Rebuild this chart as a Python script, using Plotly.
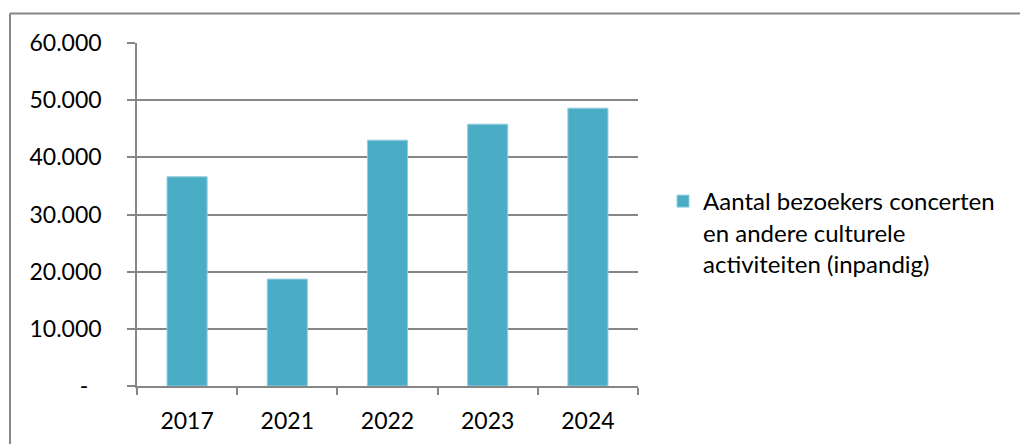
import plotly.graph_objects as go

years = ["2017", "2021", "2022", "2023", "2024"]
visitors = [36600, 18700, 43000, 45800, 48600]
series_name = "Aantal bezoekers concerten<br>en andere culturele<br>activiteiten (inpandig)"
y_tickvals = [0, 10000, 20000, 30000, 40000, 50000, 60000]
y_ticktext = ["-\u2007", "10.000", "20.000", "30.000", "40.000", "50.000", "60.000"]

W, H = 1020, 444
ML, MR, MT, MB = 137, 382, 43, 58
PW, PH = W - ML - MR, H - MT - MB

def px_x(p):
    return (p - ML) / PW

def px_y(p):
    return 1 - (p - MT) / PH

GRAY = "#868686"
FONT = "Lato"

fig = go.Figure()
fig.add_trace(go.Bar(
    x=years, y=visitors, name=series_name,
    marker=dict(color="#4BACC6", line=dict(color="#93CEDD", width=1)),
    showlegend=True,
))

fig.update_layout(
    width=W, height=H,
    margin=dict(l=ML, r=MR, t=MT, b=MB, pad=0, autoexpand=False),
    paper_bgcolor="white", plot_bgcolor="white",
    bargap=0.6,
    font=dict(family=FONT, size=23, color="black"),
    showlegend=True,
    legend=dict(x=px_x(663), y=px_y(179), xanchor="left", yanchor="top",
                valign="top", font=dict(family=FONT, size=24, color="black"),
                bgcolor="rgba(0,0,0,0)", tracegroupgap=0),
    xaxis=dict(type="category", range=[-0.5, 4.5], showline=True, linecolor=GRAY,
               linewidth=1.5, ticks="outside", tickson="boundaries", ticklen=7,
               tickcolor=GRAY, tickwidth=1.5, showgrid=False, zeroline=False,
               ticklabelstandoff=14, automargin=False,
               tickfont=dict(family=FONT, size=23, color="black"), fixedrange=True),
    yaxis=dict(range=[0, 60000], tickvals=y_tickvals, ticktext=y_ticktext,
               showline=True, linecolor=GRAY, linewidth=1.5, ticks="outside",
               ticklen=8, tickcolor=GRAY, tickwidth=1.5, showgrid=True,
               gridcolor=GRAY, gridwidth=1.5, zeroline=False,
               ticklabelstandoff=21, automargin=False,
               tickfont=dict(family=FONT, size=23, color="black"), fixedrange=True),
    shapes=[
        dict(type="line", xref="paper", yref="paper", x0=px_x(10), x1=px_x(1025),
             y0=px_y(13.5), y1=px_y(13.5), line=dict(color=GRAY, width=2)),
        dict(type="line", xref="paper", yref="paper", x0=px_x(10), x1=px_x(10),
             y0=px_y(13.5), y1=px_y(450), line=dict(color=GRAY, width=2)),
    ],
)

fig.write_html("out.html")
